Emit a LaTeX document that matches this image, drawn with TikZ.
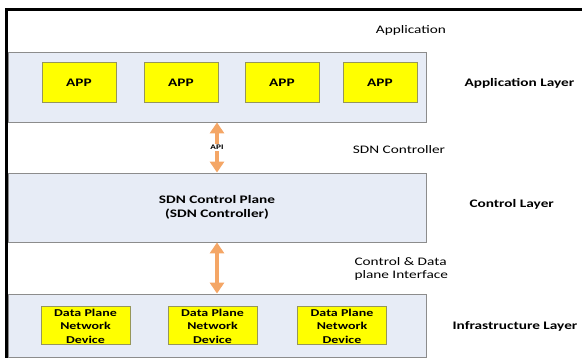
\documentclass[tikz,border=0pt]{standalone}
\usepackage{fontspec}
\setmainfont{Carlito}[FakeStretch=1.33]
\usetikzlibrary{arrows.meta}
\definecolor{layerblue}{RGB}{231,236,246}
\definecolor{layergray}{RGB}{140,140,140}
\definecolor{appyellow}{RGB}{255,255,0}
\definecolor{appolive}{RGB}{150,150,90}
\definecolor{linkorange}{RGB}{244,166,102}
\tikzset{
  layerbox/.style={draw=layergray,fill=layerblue,line width=0.8pt,minimum width=418pt,inner sep=0pt,align=center,font=\bfseries\fontsize{11.5}{13.5}\selectfont},
  appbox/.style={draw=appolive,fill=appyellow,line width=1pt,inner sep=0pt,align=center,font=\bfseries\fontsize{10.5}{13.5}\selectfont},
  sidetext/.style={font=\fontsize{11.5}{13.5}\selectfont,align=left},
  layername/.style={font=\bfseries\fontsize{11.5}{13.5}\selectfont,anchor=west},
  link/.style={linkorange,line width=4.5pt,{Triangle[width=14pt,length=11pt]}-{Triangle[width=14pt,length=11pt]}}
}
\begin{document}
\begin{tikzpicture}[x=1pt,y=-1pt]
\useasboundingbox (0,0) rectangle (582,358);
\draw[line width=3pt] (582,9.5) -- (6.5,9.5) -- (6.5,358); % frame
% the three layers
\node[layerbox,minimum height=70pt] (applayer) at (217,87) {};
\node[layerbox,minimum height=69pt] (ctrllayer) at (217,207.5) {SDN Control Plane\\(SDN Controller)};
\node[layerbox,minimum height=63pt] (infralayer) at (217,325.5) {};
\foreach \i/\x in {1/79,2/181,3/282,4/380} % edit here for the apps
  \node[appbox,minimum width=74pt,minimum height=40pt,font=\bfseries\fontsize{11.5}{13.5}\selectfont] (app\i) at (\x,83) {APP};
\foreach \i/\x in {1/85.5,2/212.5,3/342}
  \node[appbox,minimum width=89pt,minimum height=38pt] (dev\i) at (\x,326) {Data Plane\\Network\\Device};
% arrows between the layers
\draw[link] (applayer.south) -- node[fill=white,inner sep=1.5pt,text=black,font=\bfseries\fontsize{7}{8}\selectfont] (api) {API} (ctrllayer.north);
\draw[link] (ctrllayer.south) -- (infralayer.north);
% texts on the right
\node[sidetext] (apptext) at (411,30) {Application};
\node[sidetext] (sdntext) at (399,150) {SDN Controller};
\node[sidetext,anchor=west] (iftext) at (351,269) {Control \& Data\\plane Interface};
\node[layername] (appname) at (461,83) {Application Layer};
\node[layername] (ctrlname) at (466,204) {Control Layer};
\node[layername] (infraname) at (449,326) {Infrastructure Layer};
\end{tikzpicture}
\end{document}
